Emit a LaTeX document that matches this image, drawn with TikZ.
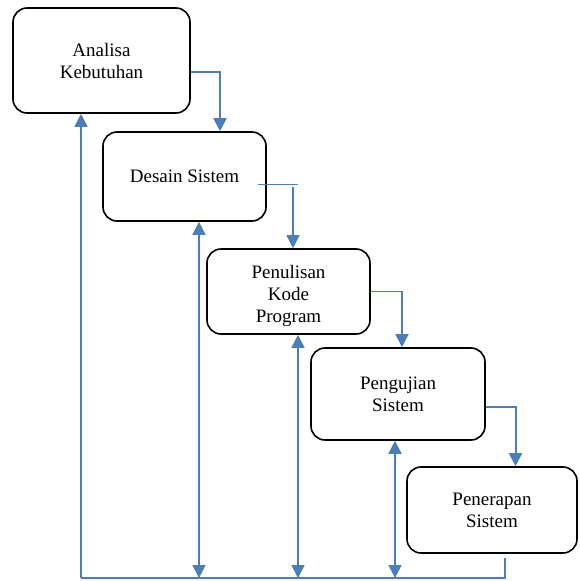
\documentclass[tikz,border=0pt]{standalone}
\usepackage{fontspec}
\setmainfont{Liberation Serif}
\usetikzlibrary{arrows.meta}
\definecolor{lineblue}{HTML}{4A7EBB}
\begin{document}
\begin{tikzpicture}[x=1pt,y=-1pt,
  box/.style={draw=black,line width=1.6pt,rounded corners=14pt,align=center,
    font=\fontsize{19}{22}\selectfont,inner sep=0pt},
  conn/.style={draw=lineblue,line width=1.6pt},
  arr/.style={conn,-{Triangle[width=13pt,length=13pt]}},
  darr/.style={conn,{Triangle[width=13pt,length=13pt]}-{Triangle[width=13pt,length=13pt]}},
  thinconn/.style={draw=lineblue,line width=1pt}]
\useasboundingbox (0,0) rectangle (579,581);
\node[box,minimum width=177pt,minimum height=105pt] (b1) at (101.5,60.5) {Analisa\\Kebutuhan};
\node[box,minimum width=163pt,minimum height=89pt] (b2) at (184.5,176.5) {Desain Sistem};
\node[box,minimum width=163pt,minimum height=85pt] (b3) at (288.5,291.5) {\rule{0pt}{22pt}Penulisan\\Kode\\Program};
\node[box,minimum width=174pt,minimum height=92pt] (b4) at (398,394) {Pengujian\\Sistem};
\node[box,minimum width=170pt,minimum height=86pt] (b5) at (492,510) {Penerapan\\Sistem};
% forward flow
\draw[arr,line width=2pt] ([yshift=-11.5pt]b1.east) -| ([xshift=35.5pt]b2.north);
\coordinate (h2a) at (258,184);
\coordinate (h2b) at (298,184);
\draw[thinconn] (h2a) -- (h2b);
\coordinate (v2) at (293,187);
\draw[arr,line width=1.4pt] (v2) -- (v2 |- b3.north);
\draw[arr,line width=1.6pt] (b3.east) -| ([xshift=4pt]b4.north);
\draw[arr,line width=2pt] ([yshift=-13pt]b4.east) -| ([xshift=23.5pt]b5.north);
% feedback
\coordinate (bl) at (81,578);
\coordinate (r1) at (505,558);
\draw[conn] (r1) -- (r1 |- bl) -- (bl);
\draw[arr] (bl) -- (bl |- b1.south);
\coordinate (f2) at (199,578);
\draw[darr] (f2 |- b2.south) -- (f2);
\coordinate (f3) at (298,578);
\draw[darr] (f3 |- b3.south) -- (f3);
\coordinate (f4) at (395,578);
\draw[darr] (f4 |- b4.south) -- (f4);
\end{tikzpicture}
\end{document}
